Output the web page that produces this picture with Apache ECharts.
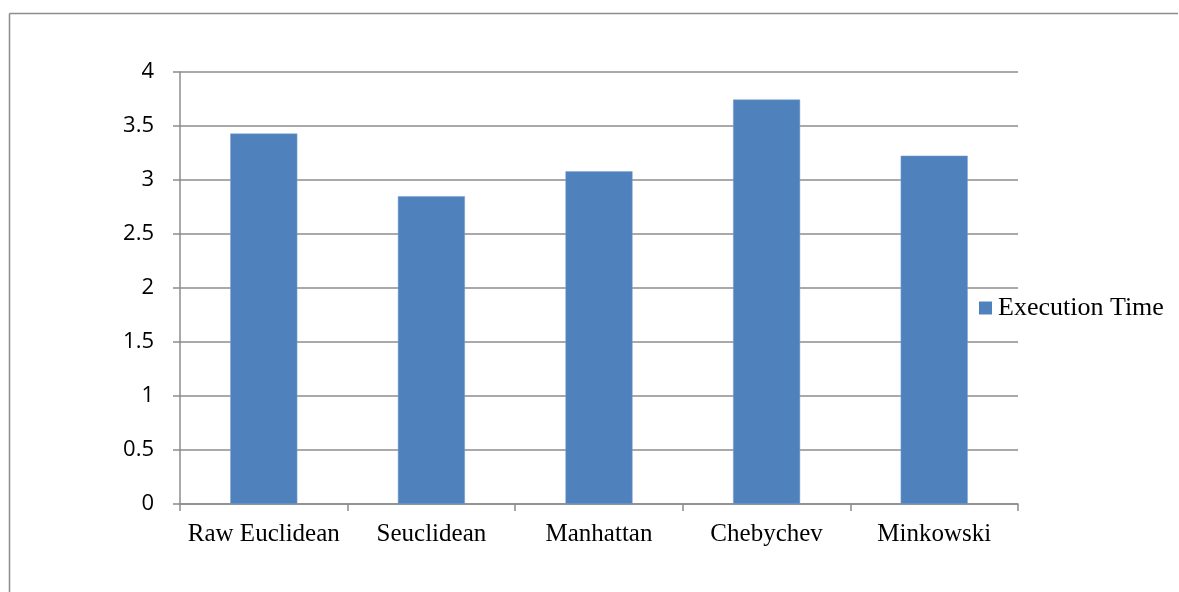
<!DOCTYPE html>
<html><head><meta charset="utf-8">
<script src="https://cdn.jsdelivr.net/npm/echarts@6/dist/echarts.min.js"></script>
<style>html,body{margin:0;padding:0;background:#fff}#c{width:1179px;height:592px}</style>
</head><body><div id="c"></div>
<script>
const categories = ['Raw Euclidean', 'Seuclidean', 'Manhattan', 'Chebychev', 'Minkowski'];
const executionTime = [3.43, 2.85, 3.08, 3.745, 3.225];
const seriesName = 'Execution Time';

const chart = echarts.init(document.getElementById('c'));
chart.setOption({
  animation: false,
  backgroundColor: '#fff',
  graphic: [
    { type: 'line', shape: { x1: 9.5, y1: 13.5, x2: 1178, y2: 13.5 }, style: { stroke: '#8c8c8c', lineWidth: 1.5 } },
    { type: 'line', shape: { x1: 9.5, y1: 13.5, x2: 9.5, y2: 592 }, style: { stroke: '#8c8c8c', lineWidth: 1.5 } }
  ],
  grid: { left: 180, right: 161, top: 72, bottom: 88, containLabel: false },
  legend: {
    data: [seriesName], left: 979, top: 295, orient: 'vertical',
    icon: 'rect', itemWidth: 13, itemHeight: 13, itemGap: 6, padding: 0,
    itemStyle: { borderWidth: 0 },
    textStyle: { fontFamily: 'Liberation Serif', fontSize: 26, color: '#000', padding: [0, 0, 0, 1] }
  },
  xAxis: {
    type: 'category', data: categories,
    axisLine: { lineStyle: { color: '#8c8c8c', width: 1.5 } },
    axisTick: { show: true, interval: 0, alignWithLabel: false, length: 7, lineStyle: { color: '#8c8c8c', width: 1.5 } },
    axisLabel: { interval: 0, fontFamily: 'Liberation Serif', fontSize: 25, color: '#000', margin: 18 }
  },
  yAxis: {
    type: 'value', min: 0, max: 4, interval: 0.5,
    axisLine: { show: true, lineStyle: { color: '#8c8c8c', width: 1.5 } },
    axisTick: { show: true, length: 7, lineStyle: { color: '#8c8c8c', width: 1.5 } },
    splitLine: { lineStyle: { color: '#8c8c8c', width: 1.5 } },
    axisLabel: { fontFamily: 'Open Sans', fontSize: 22, color: '#000', margin: 26 }
  },
  series: [{
    name: seriesName, type: 'bar', data: executionTime, barWidth: '40%',
    itemStyle: { color: '#4f81bd', borderColor: '#7aa0d0', borderWidth: 0.5 }
  }]
});
</script></body></html>
